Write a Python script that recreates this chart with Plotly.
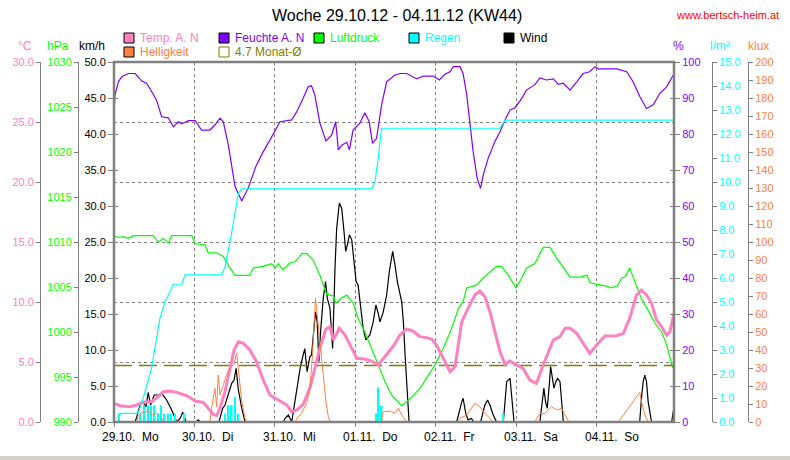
import plotly.graph_objects as go

# ---------------- data ----------------
title_text = "Woche 29.10.12 - 04.11.12 (KW44)"
site_text = "www.bertsch-heim.at"
day_hours = [0, 24, 48, 72, 96, 120, 144]
day_labels = ["29.10.\u00a0\u00a0Mo", "30.10.\u00a0\u00a0Di", "31.10.\u00a0\u00a0Mi", "01.11.\u00a0\u00a0Do",
              "02.11.\u00a0\u00a0Fr", "03.11.\u00a0\u00a0Sa", "04.11.\u00a0\u00a0So"]
x_range = [0, 167]
monat_avg = 4.7

feuchte_h = [0, 0.3, 1.3, 2.3, 4.3, 6.3, 8.3, 9.7, 11.2, 12.7, 14.2, 16.2, 17.7, 19.2, 20.2, 22.2, 24.2, 26.1,
             28.6, 30.1, 31.6, 32.6, 34.1, 35.1, 36.1, 38.1, 40.0, 42.3, 44.5, 46.5, 49.5, 53.0, 54.5, 56.4,
             57.9, 58.9, 59.9, 61.4, 63.2, 64.9, 66.1, 66.9, 67.9, 69.4, 70.2, 71.3, 73.3, 74.8, 76.1, 77.1,
             78.3, 79.8, 81.3, 83.8, 85.3, 87.3, 90.3, 92.2, 95.2, 97.0, 98.7, 100.2, 101.2, 103.2, 104.1,
             105.2, 106.1, 107.1, 108.3, 109.3, 110.1, 111.6, 113.6, 115.1, 116.6, 118.1, 119.6, 121.6, 123.0,
             125.5, 127.0, 129.0, 131.0, 132.5, 134.0, 136.0, 138.0, 139.9, 141.9, 143.4, 144.4, 149.9, 152.9,
             154.8, 156.8, 158.8, 160.8, 162.8, 164.8, 166.8]
feuchte = [86.2, 90.8, 94.5, 95.9, 96.8, 96.8, 94.7, 94.1, 91.8, 89.4, 84.8, 84.5, 82.0, 83.4, 82.8, 83.7, 83.7, 81.1,
           81.1, 82.5, 84.4, 83.4, 76.9, 71.4, 65.4, 61.4, 64.9, 71.0, 75.1, 78.3, 83.4, 83.9, 86.2, 89.9,
           93.1, 93.4, 90.8, 83.0, 78.1, 79.7, 83.4, 75.6, 76.9, 77.7, 75.6, 81.1, 83.0, 85.9, 83.4, 77.4,
           78.8, 88.1, 94.5, 96.4, 96.8, 96.8, 95.3, 96.1, 96.1, 95.0, 96.6, 97.3, 98.7, 98.7, 96.8,
           90.8, 83.4, 75.1, 67.7, 64.9, 68.6, 73.3, 77.9, 80.6, 83.9, 86.7, 87.3, 89.9, 92.2,
           93.7, 95.6, 95.0, 95.3, 93.8, 94.1, 92.2, 94.5, 96.8, 97.3, 98.7, 98.1, 98.1, 97.3,
           94.5, 90.4, 87.1, 88.1, 91.3, 93.1, 96.4]

druck_h = [0, 1.3, 2.8, 4.3, 5.8, 11.7, 13.2, 14.7, 16.2, 17.2, 23.2, 24.2, 27.1, 28.1, 30.6, 32.6, 34.1, 36.1,
           40.5, 41.5, 44.5, 47.0, 48.0, 49.0, 50.3, 52.5, 54.0, 56.0, 57.5, 59.4, 61.4, 63.4, 65.4, 66.2,
           67.9, 69.4, 71.3, 72.8, 74.8, 76.8, 78.8, 80.8, 82.8, 85.8, 88.3, 91.2, 93.2, 95.7, 98.2, 100.7,
           102.7, 104.1, 105.2, 108.1, 110.1, 112.1, 114.1, 115.6, 117.6, 119.9, 121.6, 123.0, 125.5, 128.0,
           130.0, 132.0, 134.0, 136.0, 138.9, 141.1, 141.9, 143.9, 146.9, 148.1, 150.1, 151.4, 152.4, 153.8,
           155.3, 157.3, 159.3, 161.3, 163.3, 164.8, 166.6]
druck = [1010.7, 1010.5, 1010.6, 1010.4, 1010.7, 1010.7, 1010.0, 1010.4, 1009.9, 1010.7, 1010.7, 1009.8, 1009.7,
         1008.8, 1008.8, 1008.4, 1007.4, 1006.3, 1006.3, 1007.1, 1007.3, 1007.6, 1007.1, 1007.6, 1006.9, 1007.7,
         1007.8, 1008.7, 1008.7, 1008.0, 1006.3, 1004.2, 1004.0, 1003.2, 1003.8, 1004.1, 1003.2, 1001.5, 1000.0,
         998.2, 996.3, 994.5, 993.0, 991.8, 992.6, 993.7, 994.9, 996.3, 998.2, 1000.4, 1002.6, 1003.4, 1004.9,
         1005.2, 1006.0, 1006.7, 1007.3, 1007.3, 1006.3, 1004.9, 1006.0, 1007.1, 1007.6, 1009.4, 1009.4, 1008.2,
         1007.1, 1006.1, 1006.1, 1006.3, 1005.5, 1005.3, 1005.1, 1004.9, 1005.1, 1006.0, 1006.1, 1007.1, 1005.6,
         1003.7, 1002.4, 1001.0, 1000.0, 998.6, 996.0]

temp_h = [0, 1.8, 4.8, 6.8, 8.7, 11.2, 13.2, 14.7, 16.7, 18.7, 21.7, 24.2, 26.6, 28.1, 29.6, 30.6, 31.6, 33.1,
          34.6, 35.8, 37.1, 38.6, 40.5, 42.5, 44.5, 46.5, 49.5, 51.5, 53.0, 54.5, 56.4, 58.4, 59.9, 61.4,
          63.2, 64.4, 65.4, 67.2, 68.9, 70.4, 72.4, 74.8, 76.8, 78.8, 80.8, 83.3, 85.3, 87.3, 89.2, 91.2,
          93.2, 94.7, 96.2, 97.7, 99.2, 100.2, 101.7, 102.7, 103.7, 105.6, 107.6, 109.1, 110.6, 112.1, 113.6,
          115.1, 116.6, 118.1, 120.1, 122.0, 124.0, 126.0, 128.0, 129.5, 131.0, 133.0, 134.5, 136.0, 138.0,
          139.9, 141.9, 143.9, 146.4, 149.9, 151.9, 153.8, 155.8, 157.3, 158.8, 160.3, 161.8, 163.3, 164.8,
          165.8, 167.0]
temp = [1.56, 1.36, 1.28, 1.42, 1.64, 1.69, 2.11, 2.53, 2.58, 2.47, 2.19, 1.75, 1.64, 1.14, 0.64, 0.53, 1.14, 2.53,
        4.47, 6.0, 6.69, 6.56, 6.0, 5.03, 3.5, 2.25, 1.75, 1.42, 0.86, 1.0, 1.47, 2.81, 4.47, 6.14,
        7.75, 7.94, 6.83, 7.81, 7.25, 6.42, 5.31, 5.25, 5.08, 4.75, 5.44, 6.33, 7.25, 7.75, 7.58, 7.11,
        7.03, 6.92, 6.42, 5.58, 4.61, 4.19, 4.61, 6.69, 8.36, 9.47, 10.58, 10.92, 10.44, 9.19, 7.53,
        5.86, 4.81, 5.08, 4.75, 4.47, 3.5, 3.22, 4.75, 5.72, 6.83, 7.11, 7.81, 7.81, 7.39,
        6.56, 5.72, 6.42, 7.17, 7.19, 7.39, 8.64, 10.58, 11.0, 10.58, 9.89, 8.5, 7.94, 7.25,
        7.53, 9.06]

regen_sum_h = [0, 1.4, 1.8, 7.2, 8.7, 11.2, 13.7, 15.2, 16.7, 17.7, 20.2, 21.2, 32.1, 33.1, 34.6, 36.1, 37.1, 38.1,
               76.8, 77.8, 78.8, 79.8, 115.1, 116.6, 167.0]
regen_sum = [0, 0, 0.36, 0.36, 0.99, 2.24, 4.32, 5.01, 5.43, 5.74, 5.74, 6.13, 6.13, 6.47, 7.51, 8.76, 9.53, 9.71,
             9.71, 10.0, 11.0, 12.24, 12.24, 12.58, 12.58]

regen_bar_h = [1.5, 8.0, 9.1, 10.1, 11.0, 12.1, 13.1, 14.0, 15.1, 16.1, 17.1, 18.2, 20.9,
               33.1, 34.1, 35.1, 36.1, 37.1, 78.1, 78.9, 79.8, 116.0]
regen_bar = [0.35, 0.35, 0.7, 0.7, 0.7, 0.7, 0.35, 0.7, 0.35, 0.35, 0.35, 0.35, 0.35,
             0.35, 0.7, 0.7, 1.05, 0.35, 0.35, 1.44, 0.7, 0.35]

wind_h = [0, 6.3, 6.8, 7.8, 8.7, 9.5, 10.2, 10.9, 12.0, 13.2, 14.2, 15.7, 17.2, 18.7, 19.7, 20.5, 21.5, 24.5, 25.1,
          25.8, 31.3, 31.6, 32.4, 33.1, 34.1, 35.1, 35.8, 36.4, 37.1, 38.1, 39.1, 50.5, 51.0, 52.0, 53.0, 54.5,
          55.5, 56.3, 56.9, 57.6, 58.4, 58.9, 59.4, 60.1, 60.6, 61.1, 61.6, 62.4, 63.1, 63.6, 64.4, 64.9, 65.2,
          65.9, 66.4, 67.2, 67.9, 68.6, 69.1, 69.6, 70.2, 70.9, 71.6, 72.2, 72.8, 73.6, 74.3, 75.1, 76.3, 77.3,
          78.1, 78.8, 79.3, 80.3, 81.3, 82.1, 83.1, 83.8, 84.5, 85.8, 86.3, 86.8, 87.4, 88.0, 102.2, 102.7,
          103.7, 104.1, 104.9, 105.6, 106.6, 107.3, 109.3, 109.6, 110.6, 111.4, 112.1, 113.1, 114.1, 116.1,
          116.6, 117.1, 118.1, 118.6, 119.3, 127.0, 127.8, 128.2, 128.7, 129.2, 129.8, 130.2, 130.6, 131.2,
          131.8, 132.3, 133.0, 133.5, 134.0, 156.5, 156.8, 157.3, 157.8, 158.3, 158.8, 159.3, 160.3, 166.3,
          167.0]
wind = [0, 0, 0.74, 2.36, 2.8, 2.1, 4.1, 2.36, 3.75, 3.75, 4.0, 3.05, 1.67, 0, 0.5, 1.35, 0, 0, 0.3,
        0, 0, 0.5, 1.9, 2.36, 3.75, 5.37, 5.83, 7.45, 4.44, 1.9, 0, 0, 0.5, 0.97, 0, 4.68,
        7.45, 9.07, 10.2, 7.0, 9.07, 9.3, 12.1, 15.3, 13.9, 8.4, 12.5, 17.2, 19.5, 17.2, 15.8, 12.1, 10.2,
        21.3, 26.9, 30.4, 29.7, 26.4, 23.7, 24.6, 26.0, 25.3, 22.3, 19.5, 19.0, 15.8, 13.0, 11.4, 12.1, 13.9,
        16.25, 15.1, 13.9, 15.3, 17.6, 20.9, 23.7, 21.8, 19.5, 16.7, 13.9, 9.3, 3.75, 0, 0, 1.0,
        2.8, 3.3, 1.2, 0.3, 0.5, 0, 0, 0.5, 2.36, 3.05, 2.36, 0.97, 0, 0,
        2.8, 5.6, 6.07, 3.75, 0, 0, 3.3, 4.7, 2.8, 1.9, 5.1, 7.7, 6.5, 4.7,
        5.6, 6.07, 5.6, 2.8, 0, 0, 0.2, 3.3, 5.6, 6.5, 5.6, 2.8, 0, 0,
        2.1]

hell_h = [0, 6.8, 7.2, 8.3, 9.2, 10.2, 11.2, 12.7, 13.7, 15.2, 28.6, 29.1, 30.1, 30.6, 31.1, 31.6, 32.6, 33.6,
          34.6, 35.8, 36.6, 37.1, 38.1, 39.1, 39.6, 54.0, 54.5, 55.9, 57.5, 58.4, 59.2, 59.7, 60.1, 60.6, 61.4,
          62.4, 63.2, 63.9, 64.4, 79.8, 80.3, 82.3, 83.8, 84.8, 85.8, 87.3, 102.2, 103.2, 105.2, 106.6, 107.6,
          109.1, 110.6, 112.1, 113.1, 125.5, 127.0, 128.5, 130.5, 132.0, 133.5, 134.5, 135.7, 150.4, 151.9,
          153.8, 155.8, 156.8, 157.3, 158.3, 159.3, 167.0]
hell = [0, 0, 2.96, 5.7, 4.8, 6.7, 3.9, 4.8, 2.96, 0, 0, 7.6, 18.7, 8.5, 26.1, 15, 20.6, 26.1,
        29.8, 32.6, 38.2, 29.8, 11.3, 2, 0, 0, 2, 4.8, 10.4, 18.7, 37.2, 55.7, 68.7, 59.4, 42.8,
        26.1, 11.3, 3, 0, 0, 5.7, 6.1, 4.8, 7.6, 3.9, 0, 0, 2, 3.9, 7.6, 10.4,
        8.5, 4.8, 2, 0, 0, 4.8, 4.8, 8.5, 6.7, 7.6, 3.9, 0, 0, 3.9,
        9.4, 14, 16.5, 11.3, 3.9, 0, 0]

# ---------------- styling ----------------
W, H = 790, 460
PL, PR, PT, PB = 114, 674, 62, 422
FONT = "Liberation Sans, Arial, sans-serif"
GRAY = "#808080"
PINK = "#FF80C0"
ORANGE = "#FF8040"
PURPLE = "#8000FF"
GREEN = "#00FF00"
CYAN = "#00FFFF"
OLIVE = "#808000"


def px(x):
    return x / W


def py(y):
    return 1 - y / H


xd = [px(PL), px(PR)]
yd = [py(PB), py(PT)]

fig = go.Figure()
fig.add_trace(go.Bar(x=regen_bar_h, y=regen_bar, width=0.5, yaxis="y5",
                     marker=dict(color=CYAN, line=dict(width=0))))
fig.add_trace(go.Scatter(x=hell_h, y=hell, yaxis="y6", mode="lines", line=dict(color=ORANGE, width=1)))
fig.add_trace(go.Scatter(x=druck_h, y=druck, yaxis="y2", mode="lines", line=dict(color=GREEN, width=1.2)))
fig.add_trace(go.Scatter(x=feuchte_h, y=feuchte, yaxis="y4", mode="lines", line=dict(color=PURPLE, width=1.2)))
fig.add_trace(go.Scatter(x=regen_sum_h, y=regen_sum, yaxis="y5", mode="lines", line=dict(color=CYAN, width=1.2)))
fig.add_trace(go.Scatter(x=x_range, y=[monat_avg, monat_avg], yaxis="y3", mode="lines",
                         line=dict(color=OLIVE, width=1.5, dash="18px,7px")))
fig.add_trace(go.Scatter(x=temp_h, y=temp, yaxis="y3", mode="lines", line=dict(color=PINK, width=3)))
fig.add_trace(go.Scatter(x=wind_h, y=wind, yaxis="y", mode="lines", line=dict(color="black", width=1.2)))
# helper traces so overlay axes are drawn
fig.add_trace(go.Scatter(x=[None], y=[None], xaxis="x2", yaxis="y"))
for ax in ["y7", "y8", "y9"]:
    fig.add_trace(go.Scatter(x=[None], y=[None], yaxis=ax))

tick_common = dict(showgrid=False, zeroline=False, showline=True, linecolor=GRAY, linewidth=1,
                   ticks="outside", ticklen=4, tickcolor=GRAY, automargin=False)

fig.update_layout(
    template="none",
    width=W, height=H, margin=dict(l=0, r=0, t=0, b=0, pad=0, autoexpand=False),
    paper_bgcolor="white", plot_bgcolor="white", showlegend=False,
    font=dict(family=FONT, size=11, color="black"),
    xaxis=dict(domain=xd, range=x_range, tickvals=day_hours, ticks="outside", ticklen=4, tickcolor=GRAY,
               showticklabels=False, showgrid=True, gridcolor=GRAY, griddash="3px,3px", gridwidth=1,
               zeroline=False, showline=False, automargin=False),
    xaxis2=dict(overlaying="x", side="top", anchor="y", range=x_range, tickvals=day_hours, ticks="inside",
                ticklen=4, tickcolor=GRAY, showticklabels=False, showgrid=False, zeroline=False, showline=False,
                automargin=False),
    yaxis=dict(domain=yd, range=[0, 50], dtick=5, tickformat=".1f", tickfont=dict(color="black", size=11),
               showgrid=False, zeroline=False, showline=False, ticks="outside", ticklen=5, tickcolor=GRAY,
               automargin=False),
    yaxis2=dict(overlaying="y", anchor="free", position=px(78), side="left", range=[990, 1030], dtick=5,
                tickformat="d", tickfont=dict(color=GREEN, size=11), **tick_common),
    yaxis3=dict(overlaying="y", anchor="free", position=px(40), side="left", range=[0, 30], dtick=5,
                tickformat=".1f", tickfont=dict(color=PINK, size=11), **tick_common),
    yaxis4=dict(overlaying="y", anchor="x", side="right", range=[0, 100], dtick=10, tickformat="d",
                tickfont=dict(color=PURPLE, size=11), showgrid=False, zeroline=False, showline=False,
                ticks="outside", ticklen=5, tickcolor=GRAY, automargin=False),
    yaxis5=dict(overlaying="y", anchor="free", position=px(712), side="right", range=[0, 15], dtick=1,
                tickformat=".1f", tickfont=dict(color=CYAN, size=11), **tick_common),
    yaxis6=dict(overlaying="y", anchor="free", position=px(748), side="right", range=[0, 200], dtick=10,
                tickformat="d", tickfont=dict(color=ORANGE, size=11), **tick_common),
    yaxis7=dict(overlaying="y", anchor="x", side="left", range=[0, 6], dtick=1, showgrid=True, gridcolor=GRAY,
                griddash="3px,3px", gridwidth=1, showticklabels=False, ticks="", zeroline=False, showline=False,
                automargin=False),
    yaxis8=dict(overlaying="y", anchor="x", side="left", range=[0, 50], dtick=5, showgrid=False,
                showticklabels=False, ticks="inside", ticklen=4, tickcolor=GRAY, zeroline=False, showline=False,
                automargin=False),
    yaxis9=dict(overlaying="y", anchor="x", side="right", range=[0, 100], dtick=10, showgrid=False,
                showticklabels=False, ticks="inside", ticklen=4, tickcolor=GRAY, zeroline=False, showline=False,
                automargin=False),
)

shapes = []
# plot frame
shapes.append(dict(type="rect", xref="paper", yref="paper", x0=xd[0], x1=xd[1], y0=yd[0], y1=yd[1],
                   line=dict(color=GRAY, width=2.5), layer="above"))
# bottom status bar
shapes.append(dict(type="rect", xref="paper", yref="paper", x0=0, x1=1, y0=0, y1=py(456),
                   fillcolor="#D4D0C8", line=dict(width=0), layer="above"))

ann = []
ann.append(dict(text=title_text, x=px(397), y=py(15), xref="paper", yref="paper", showarrow=False,
                font=dict(size=16, color="black", family=FONT), xanchor="center", yanchor="middle"))
ann.append(dict(text=site_text, x=px(781), y=py(15), xref="paper", yref="paper", showarrow=False,
                font=dict(size=11, color="red", family=FONT), xanchor="right", yanchor="middle"))

# axis unit labels
for txt, xc, col in [("°C", 25, PINK), ("hPa", 58, GREEN), ("km/h", 92, "black"),
                     ("%", 678, PURPLE), ("l/m²", 720, CYAN), ("klux", 758, ORANGE)]:
    ann.append(dict(text=txt, x=px(xc), y=py(46), xref="paper", yref="paper", showarrow=False,
                    font=dict(size=12, color=col, family=FONT), xanchor="center", yanchor="middle"))

# legend
legend_items = [("Temp. A. N", PINK, 124, 38, True), ("Helligkeit", ORANGE, 124, 52, True),
                ("Feuchte A. N", PURPLE, 219, 38, True), ("4.7 Monat-Ø", OLIVE, 219, 52, False),
                ("Luftdruck", GREEN, 314, 38, True), ("Regen", CYAN, 409, 38, True),
                ("Wind", "black", 504, 38, True)]
for txt, col, bx, cy, filled in legend_items:
    if filled:
        shapes.append(dict(type="rect", xref="paper", yref="paper", x0=px(bx), x1=px(bx + 10),
                           y0=py(cy + 5), y1=py(cy - 5), fillcolor=col, line=dict(color="black", width=1)))
    else:
        shapes.append(dict(type="rect", xref="paper", yref="paper", x0=px(bx), x1=px(bx + 10),
                           y0=py(cy + 5), y1=py(cy - 5), fillcolor="rgba(0,0,0,0)", line=dict(color=col, width=1)))
    ann.append(dict(text=txt, x=px(bx + 14), y=py(cy), xref="paper", yref="paper", showarrow=False,
                    font=dict(size=12, color=col, family=FONT), xanchor="left", yanchor="middle"))

# day labels
for h, lab in zip(day_hours, day_labels):
    ann.append(dict(text=lab, x=h, y=py(437), xref="x", yref="paper", showarrow=False, xshift=-14,
                    font=dict(size=12, color="black", family=FONT), xanchor="left", yanchor="middle"))

fig.update_layout(shapes=shapes, annotations=ann)
fig.write_html("out.html")
